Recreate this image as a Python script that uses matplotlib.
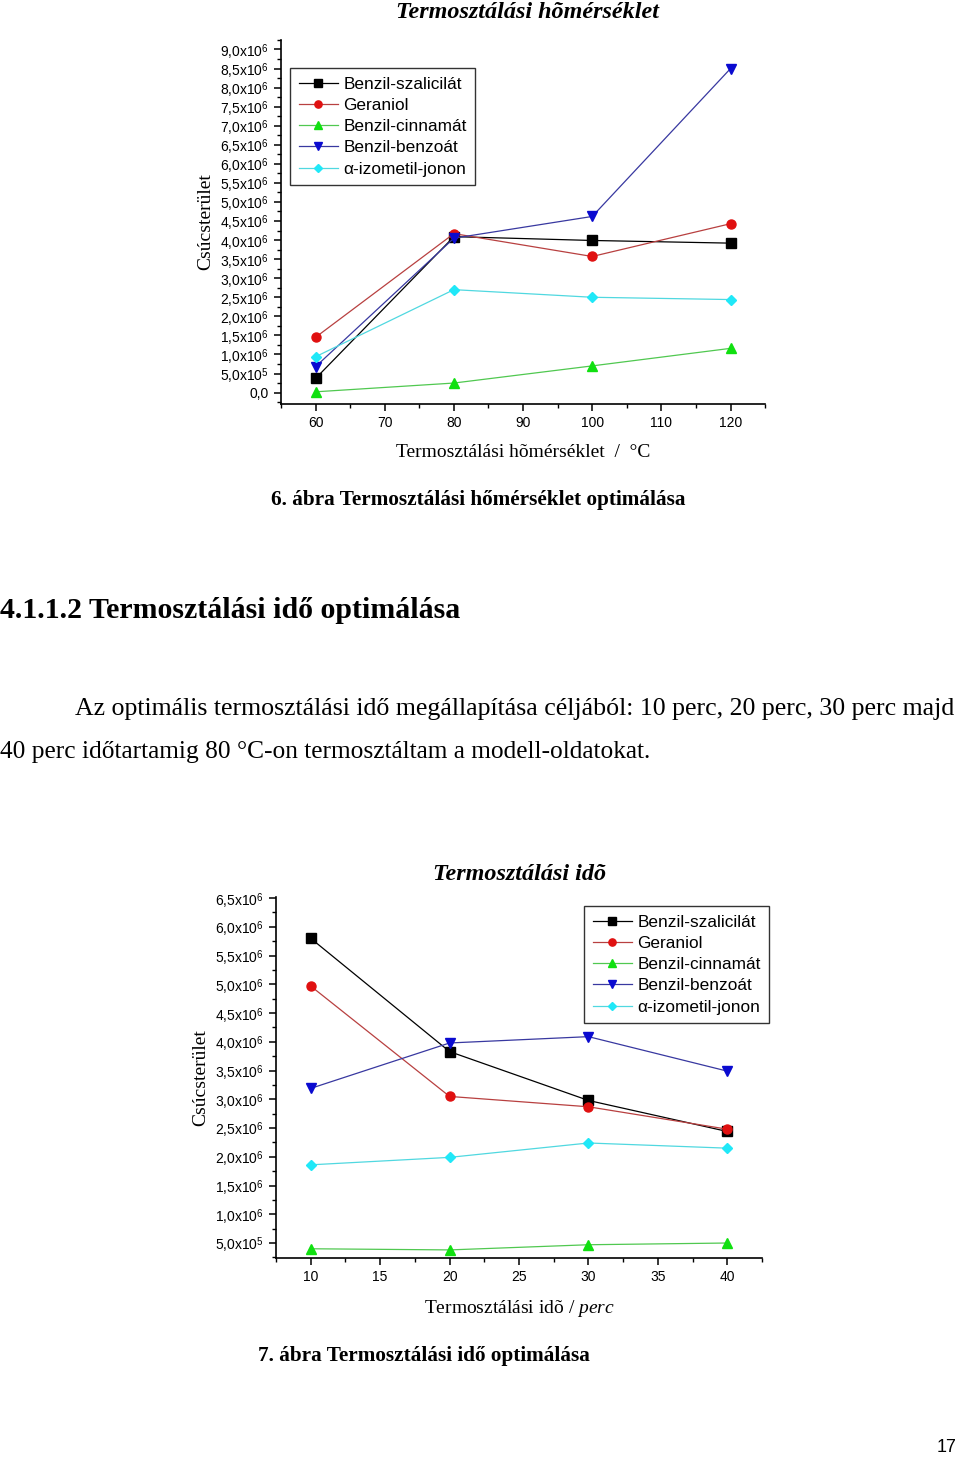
import matplotlib
matplotlib.use('Agg')
import matplotlib.pyplot as plt
from matplotlib.ticker import FuncFormatter, MultipleLocator

# Data - chart 1 (temperature)
temp = [60, 80, 100, 120]
temp_szalicilat = [0.37e6, 4.09e6, 3.99e6, 3.92e6]
temp_geraniol = [1.45e6, 4.17e6, 3.57e6, 4.43e6]
temp_cinnamat = [0.02e6, 0.25e6, 0.70e6, 1.16e6]
temp_benzoat = [0.68e6, 4.05e6, 4.62e6, 8.50e6]
temp_jonon = [0.94e6, 2.70e6, 2.50e6, 2.44e6]

# Data - chart 2 (time)
ido = [10, 20, 30, 40]
ido_szalicilat = [5.80e6, 3.83e6, 2.98e6, 2.44e6]
ido_geraniol = [4.97e6, 3.05e6, 2.87e6, 2.48e6]
ido_cinnamat = [0.40e6, 0.38e6, 0.47e6, 0.50e6]
ido_benzoat = [3.19e6, 3.98e6, 4.09e6, 3.49e6]
ido_jonon = [1.86e6, 1.99e6, 2.24e6, 2.15e6]

names = ['Benzil-szalicilát', 'Geraniol', 'Benzil-cinnamát', 'Benzil-benzoát', 'α-izometil-jonon']
markers = ['s', 'o', '^', 'v', 'D']
mcolors = ['#000000', '#e01010', '#10e010', '#0a0ad0', '#20e8f8']
lcolors = ['#000000', '#b84040', '#50c850', '#3838a0', '#50d8e0']

plt.rcParams['mathtext.fontset'] = 'custom'
plt.rcParams['mathtext.rm'] = 'Liberation Sans'
plt.rcParams['mathtext.it'] = 'Liberation Serif:italic'
plt.rcParams['mathtext.cal'] = 'Liberation Serif'

SANS = 'Liberation Sans'
SERIF = 'Liberation Serif'


def fmt_y(v, pos):
    if abs(v) < 1:
        return '0,0'
    e = 6 if v >= 1e6 else 5
    m = v / 10 ** e
    s = f'{m:.1f}'.replace('.', ',')
    return s + r'x10$^{' + str(e) + '}$'


def draw(ax, x, series, xlim, ylim, xmajor, leg_xy):
    for ys, name, mk, mc, lc in zip(series, names, markers, mcolors, lcolors):
        ax.plot(x, ys, color=lc, lw=0.9, marker=mk, markersize=6.5 if mk != 'D' else 5.5,
                markerfacecolor=mc, markeredgecolor=mc, label=name)
    ax.set_xlim(*xlim)
    ax.set_ylim(*ylim)
    ax.xaxis.set_major_locator(MultipleLocator(xmajor))
    ax.xaxis.set_minor_locator(MultipleLocator(xmajor / 2))
    ax.yaxis.set_major_locator(MultipleLocator(0.5e6))
    ax.yaxis.set_minor_locator(MultipleLocator(0.25e6))
    ax.yaxis.set_major_formatter(FuncFormatter(fmt_y))
    for s in ['top', 'right']:
        ax.spines[s].set_visible(False)
    for s in ['left', 'bottom']:
        ax.spines[s].set_linewidth(1.2)
    ax.tick_params(which='major', length=5, width=1.1, labelsize=10)
    ax.tick_params(which='minor', length=3, width=1.0)
    for lab in ax.get_xticklabels() + ax.get_yticklabels():
        lab.set_fontfamily(SANS)
    leg = ax.legend(prop={'family': SANS, 'size': 12.4}, fancybox=False, edgecolor='#333333',
                    handlelength=2.3, handletextpad=0.3, labelspacing=0.36, borderpad=0.5,
                    borderaxespad=0, framealpha=1, markerscale=0.8, loc='upper left',
                    bbox_to_anchor=leg_xy, bbox_transform=fig.transFigure)
    leg.get_frame().set_linewidth(1.0)
    ax.yaxis.set_label_coords(-0.138, 0.464)
    return leg


fig = plt.figure(figsize=(9.6, 14.58), dpi=100)

# chart 1
ax1 = fig.add_axes([0.2927, 0.7229, 0.5043, 0.2497])
draw(ax1, temp, [temp_szalicilat, temp_geraniol, temp_cinnamat, temp_benzoat, temp_jonon],
     (55, 125), (-0.3e6, 9.25e6), 10, (290 / 960, 1 - 68 / 1458))
ax1.set_xlabel('Termosztálási hõmérséklet  /  °C', family=SERIF, fontsize=14, labelpad=10)
ax1.set_ylabel('Csúcsterület', family=SERIF, fontsize=14)
fig.text(528 / 960, 1 - 12 / 1458, 'Termosztálási hõmérséklet', family=SERIF, fontsize=17.4,
         weight='bold', style='italic', ha='center', va='center')

# chart 2
ax2 = fig.add_axes([0.2875, 0.1372, 0.5063, 0.2476])
draw(ax2, ido, [ido_szalicilat, ido_geraniol, ido_cinnamat, ido_benzoat, ido_jonon],
     (7.5, 42.5), (0.24e6, 6.52e6), 5, (584 / 960, 1 - 906 / 1458))
ax2.set_xlabel(r'Termosztálási idõ / $\mathit{perc}$', family=SERIF, fontsize=14, labelpad=10)
ax2.set_ylabel('Csúcsterület', family=SERIF, fontsize=14)
fig.text(520 / 960, 1 - 875 / 1458, 'Termosztálási idõ', family=SERIF, fontsize=17.4,
         weight='bold', style='italic', ha='center', va='center')

# page text
fig.text(478 / 960, 1 - 500 / 1458, '6. ábra Termosztálási hőmérséklet optimálása', family=SERIF,
         fontsize=15.3, weight='bold', ha='center', va='center')
fig.text(0, 1 - 611 / 1458, '4.1.1.2 Termosztálási idő optimálása', family=SERIF,
         fontsize=21.5, weight='bold', ha='left', va='center')
fig.text(75 / 960, 1 - 709 / 1458,
         'Az optimális termosztálási idő megállapítása céljából: 10 perc, 20 perc, 30 perc majd',
         family=SERIF, fontsize=18.65, ha='left', va='center')
fig.text(0, 1 - 752 / 1458, '40 perc időtartamig 80 °C-on termosztáltam a modell-oldatokat.',
         family=SERIF, fontsize=18.3, ha='left', va='center')
fig.text(424 / 960, 1 - 1356 / 1458, '7. ábra Termosztálási idő optimálása', family=SERIF,
         fontsize=15.3, weight='bold', ha='center', va='center')
fig.text(957 / 960, 1 - 1448 / 1458, '17', family=SANS, fontsize=13, ha='right', va='center')

fig.savefig('out.png', dpi=100)
